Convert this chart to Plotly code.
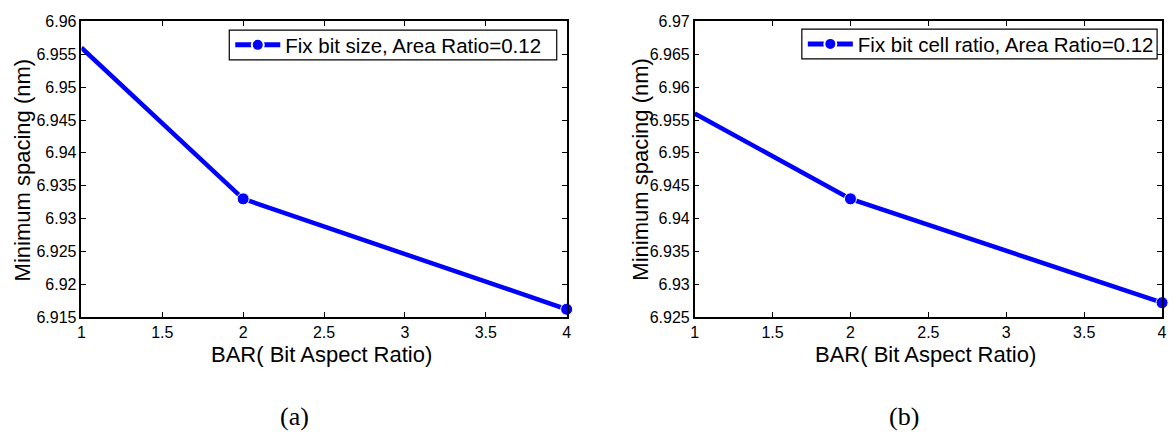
import plotly.graph_objects as go

bar = [1, 2, 4]
spacing_a = [6.956, 6.933, 6.9162]
spacing_b = [6.956, 6.943, 6.9272]
name_a = "Fix bit size, Area Ratio=0.12"
name_b = "Fix bit cell ratio, Area Ratio=0.12"
xticks = [1, 1.5, 2, 2.5, 3, 3.5, 4]
yticks_a = [6.915, 6.92, 6.925, 6.93, 6.935, 6.94, 6.945, 6.95, 6.955, 6.96]
yticks_b = [6.925, 6.93, 6.935, 6.94, 6.945, 6.95, 6.955, 6.96, 6.965, 6.97]
xlabel = "BAR( Bit Aspect Ratio)"
ylabel = "Minimum spacing (nm)"

W, H = 1175, 442
BLUE = "#0000FF"
FONT = "Liberation Sans, Arial, Helvetica, sans-serif"
SERIF = "Liberation Serif, Times New Roman, serif"
marker_sizes = [0, 12, 12]

fig = go.Figure()
fig.add_trace(go.Scatter(x=bar, y=spacing_a, mode="lines+markers", name=name_a,
                         line=dict(color=BLUE, width=4.5),
                         marker=dict(size=marker_sizes, color=BLUE, opacity=1),
                         cliponaxis=False, xaxis="x", yaxis="y", legend="legend"))
fig.add_trace(go.Scatter(x=bar, y=spacing_b, mode="lines+markers", name=name_b,
                         line=dict(color=BLUE, width=4.5),
                         marker=dict(size=marker_sizes, color=BLUE, opacity=1),
                         cliponaxis=False, xaxis="x2", yaxis="y2", legend="legend2"))

def px_x(p):
    return p / W

def px_y(p):
    return 1 - p / H

ydom = [px_y(321.5), px_y(14)]
axis_common = dict(showline=True, linecolor="black", linewidth=1.5, mirror="ticks",
                   ticks="inside", ticklen=5, tickcolor="black", showgrid=False,
                   zeroline=False, tickfont=dict(family=FONT, size=16, color="black"))

legend_common = dict(xanchor="left", yanchor="middle", borderwidth=0,
                     bgcolor="rgba(0,0,0,0)", font=dict(family=FONT, size=20.5, color="black"),
                     itemwidth=45, tracegroupgap=0, itemsizing="constant")

fig.update_layout(
    width=W, height=H, margin=dict(l=0, r=0, t=0, b=0),
    paper_bgcolor="white", plot_bgcolor="white",
    font=dict(family=FONT, color="black"),
    xaxis=dict(domain=[px_x(78), px_x(567)], range=[1, 4], tickvals=xticks,
               ticktext=[f"{v:g}" for v in xticks], anchor="y", **axis_common),
    yaxis=dict(domain=ydom, range=[6.915, 6.96], tickvals=yticks_a,
               ticktext=[f"{v:g}" for v in yticks_a], anchor="x", **axis_common),
    xaxis2=dict(domain=[px_x(696), px_x(1167)], range=[1, 4], tickvals=xticks,
                ticktext=[f"{v:g}" for v in xticks], anchor="y2", **axis_common),
    yaxis2=dict(domain=ydom, range=[6.925, 6.97], tickvals=yticks_b,
                ticktext=[f"{v:g}" for v in yticks_b], anchor="x2", **axis_common),
    legend=dict(x=px_x(228), y=px_y(38.5), **legend_common),
    legend2=dict(x=px_x(805), y=px_y(37.5), **legend_common),
    showlegend=True,
    shapes=[
        dict(type="rect", xref="paper", yref="paper", layer="above",
             x0=px_x(227), x1=px_x(557), y0=px_y(54), y1=px_y(23),
             line=dict(color="black", width=1.2), fillcolor="white"),
        dict(type="rect", xref="paper", yref="paper", layer="above",
             x0=px_x(804), x1=px_x(1162), y0=px_y(53), y1=px_y(22),
             line=dict(color="black", width=1.2), fillcolor="white"),
    ],
)

annots = [
    dict(x=px_x(320), y=px_y(360), text=xlabel, font=dict(size=22)),
    dict(x=px_x(929), y=px_y(360), text=xlabel, font=dict(size=22)),
    dict(x=px_x(19), y=px_y(168), text=ylabel, textangle=-90, font=dict(size=22)),
    dict(x=px_x(641), y=px_y(168), text=ylabel, textangle=-90, font=dict(size=22)),
    dict(x=px_x(293), y=px_y(425), text="(a)", font=dict(size=26, family=SERIF)),
    dict(x=px_x(907), y=px_y(425), text="(b)", font=dict(size=26, family=SERIF)),
]
for a in annots:
    a.update(xref="paper", yref="paper", showarrow=False, xanchor="center", yanchor="middle")
    a["font"].setdefault("family", FONT)
    a["font"].setdefault("color", "black")
fig.update_layout(annotations=annots)

fig.write_html("out.html")
